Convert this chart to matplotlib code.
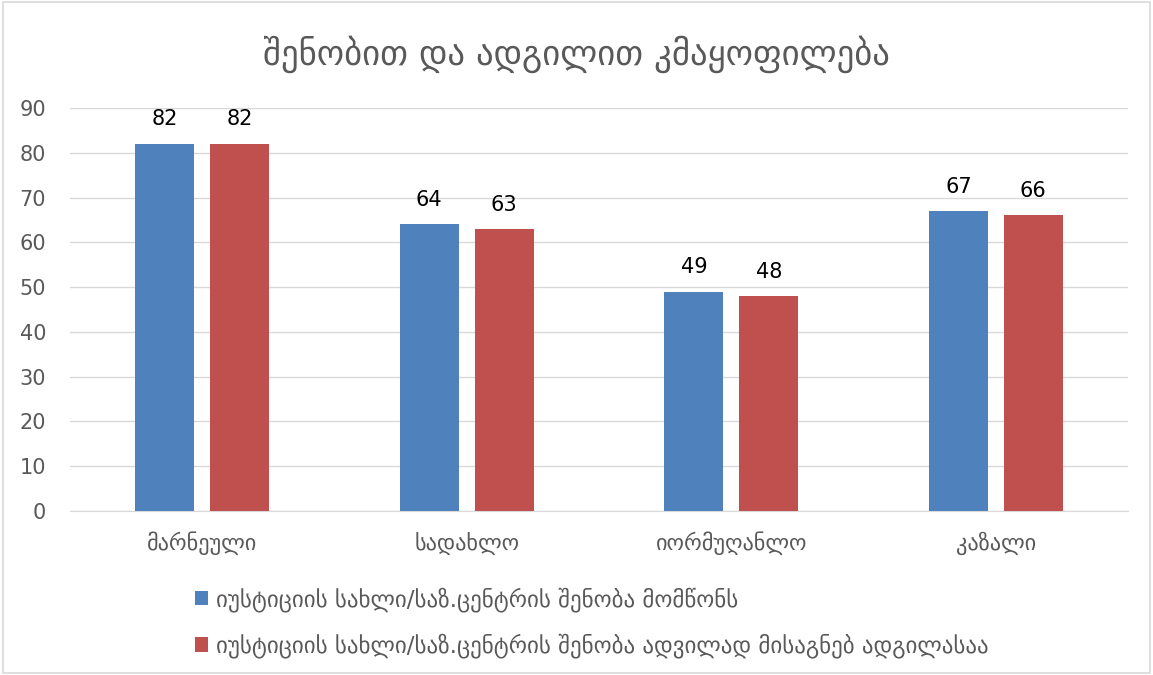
import numpy as np
import matplotlib.pyplot as plt
from matplotlib.patches import Rectangle

# data
categories = ['მარნეული', 'სადახლო', 'იორმუღანლო', 'კაზალი']
likes_building = [82, 64, 49, 67]
easy_location = [82, 63, 48, 66]
series_names = ['იუსტიციის სახლი/საზ.ცენტრის შენობა მომწონს',
                'იუსტიციის სახლი/საზ.ცენტრის შენობა ადვილად მისაგნებ ადგილასაა']
title = 'შენობით და ადგილით კმაყოფილება'

blue = '#4F81BD'
red = '#C0504D'
text_gray = '#595959'

plt.rcParams['font.family'] = ['DejaVu Sans']

fig = plt.figure(figsize=(11.53, 6.75), dpi=100)
ax = fig.add_axes([0.0605, 0.243, 0.918, 0.597])

x = np.arange(len(categories))
w = 0.223
off = 0.1415
b1 = ax.bar(x - off, likes_building, w, color=blue, zorder=3, label=series_names[0])
b2 = ax.bar(x + off, easy_location, w, color=red, zorder=3, label=series_names[1])

for bars in (b1, b2):
    for rect in bars:
        ax.text(rect.get_x() + rect.get_width() / 2, rect.get_height() + 3.2,
                f'{int(rect.get_height())}', ha='center', va='bottom',
                fontsize=15, color='black')

ax.set_xlim(-0.5, 3.5)
ax.set_ylim(0, 90)
ax.set_yticks(range(0, 91, 10))
ax.yaxis.grid(True, color='#D9D9D9', linewidth=1, zorder=0)
ax.set_xticks(x)
ax.set_xticklabels(categories, fontsize=16, color=text_gray)
ax.tick_params(axis='y', labelsize=15, labelcolor=text_gray, length=0, pad=17)
ax.tick_params(axis='x', length=0, pad=15)
for s in ['top', 'right', 'left']:
    ax.spines[s].set_visible(False)
ax.spines['bottom'].set_color('#D9D9D9')

fig.text(0.5, 0.92, title, ha='center', va='center', fontsize=25, color=text_gray)

leg = fig.legend(handles=[b1, b2], loc='upper left',
                 frameon=False, fontsize=16.5, labelcolor=text_gray,
                 handlelength=0.6, handleheight=0.6, handletextpad=0.35,
                 labelspacing=0.95)
leg.set_bbox_to_anchor((0.151, 0.161), transform=fig.transFigure)

fig.patches.append(Rectangle((0.003, 0.003), 0.994, 0.994, transform=fig.transFigure,
                             fill=False, edgecolor='#D9D9D9', linewidth=1.2))

fig.savefig('out.png', dpi=100)
